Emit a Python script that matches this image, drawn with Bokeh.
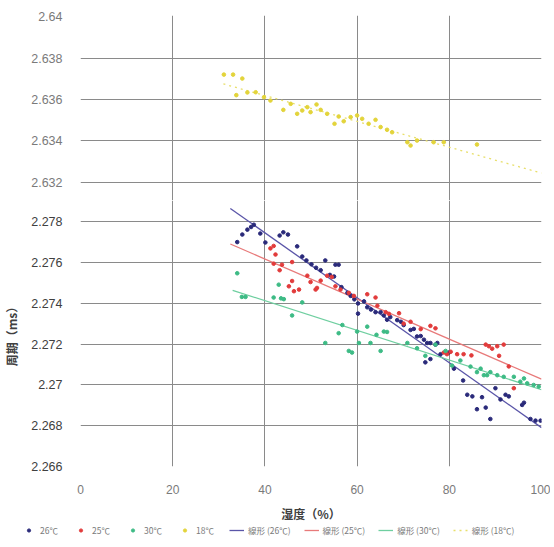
import numpy as np
from bokeh.plotting import figure
from bokeh.models import Range1d, FixedTicker, Legend, LegendItem
from bokeh.layouts import column
from bokeh.embed import file_html
from bokeh.resources import INLINE

# ---------------- data ----------------
series_names = ["26℃", "25℃", "30℃", "18℃"]
trend_names = ["線形 (26℃)", "線形 (25℃)", "線形 (30℃)", "線形 (18℃)"]

x_26 = [34.0, 35.1, 36.2, 37.0, 37.6, 39.0, 40.1, 43.2, 44.0, 45.0, 47.0, 48.1, 49.0, 50.1,
        51.1, 52.1, 53.1, 54.1, 55.3, 56.0, 55.0, 56.6, 57.9, 58.6, 59.4, 60.2, 60.2, 61.5,
        62.2, 63.0, 64.0, 65.1, 65.8, 66.5, 67.2, 68.7, 69.5, 70.1, 71.6, 72.3, 73.0, 73.8,
        74.5, 75.2, 75.9, 77.0, 77.4, 74.8, 75.9, 78.1, 79.9, 81.0, 83.0, 83.9, 85.0, 87.1,
        86.0, 87.9, 88.9, 90.0, 91.1, 92.2, 92.9, 95.8, 96.2, 97.6, 98.7, 99.8]
y_26 = [2.27701, 2.27738, 2.27762, 2.27775, 2.27786, 2.27743, 2.27699, 2.27733, 2.27749,
        2.27738, 2.27680, 2.27630, 2.27611, 2.27592, 2.27575, 2.27563, 2.27611, 2.27540,
        2.27590, 2.27590, 2.27532, 2.27480, 2.27452, 2.27437, 2.27420, 2.27400, 2.27350,
        2.27410, 2.27381, 2.27370, 2.27357, 2.27357, 2.27341, 2.27320, 2.27333, 2.27318,
        2.27310, 2.27294, 2.27270, 2.27275, 2.27238, 2.27240, 2.27222, 2.27206, 2.27206,
        2.27198, 2.27206, 2.27111, 2.27127, 2.27151, 2.27159, 2.27080, 2.27022, 2.26952,
        2.26944, 2.26940, 2.26881, 2.26889, 2.26833, 2.26984, 2.26929, 2.26952, 2.26944,
        2.26902, 2.26913, 2.26833, 2.26825, 2.26825]

x_25 = [41.2, 41.9, 41.9, 42.3, 43.2, 43.7, 45.2, 45.9, 45.9, 46.3, 47.4, 49.2, 49.9, 51.0,
        51.3, 52.1, 53.5, 54.5, 55.3, 56.4, 58.2, 59.3, 62.2, 64.0, 64.4, 66.2, 66.9, 69.1,
        70.1, 71.6, 73.8, 75.9, 77.0, 78.8, 79.5, 80.3, 81.7, 83.1, 84.8, 87.9, 88.6, 89.3,
        90.4, 91.8, 90.8, 92.9, 94.0]
y_25 = [2.27670, 2.27682, 2.27595, 2.27640, 2.27563, 2.27590, 2.27484, 2.27510, 2.27603,
        2.27460, 2.27468, 2.27536, 2.27505, 2.27468, 2.27476, 2.27512, 2.27536, 2.27530,
        2.27484, 2.27468, 2.27452, 2.27437, 2.27445, 2.27429, 2.27389, 2.27357, 2.27349,
        2.27352, 2.27301, 2.27310, 2.27274, 2.27290, 2.27278, 2.27159, 2.27151, 2.27163,
        2.27151, 2.27151, 2.27145, 2.27198, 2.27190, 2.27178, 2.27190, 2.27198, 2.27143,
        2.27091, 2.26984]

x_30 = [34.0, 35.0, 35.8, 41.9, 43.0, 43.5, 44.1, 45.9, 48.1, 53.1, 56.0, 56.8, 58.2, 58.9,
        60.0, 60.4, 62.2, 62.9, 64.2, 65.1, 65.8, 66.5, 70.9, 73.0, 74.8, 77.0, 79.2, 80.6,
        82.4, 84.6, 86.0, 86.8, 87.5, 88.2, 88.9, 90.4, 91.8, 94.0, 95.4, 96.2, 96.9, 98.3,
        99.4]
y_30 = [2.27548, 2.27432, 2.27432, 2.27429, 2.27492, 2.27425, 2.27421, 2.27341, 2.27405,
        2.27206, 2.27254, 2.27294, 2.27167, 2.27159, 2.27262, 2.27206, 2.27286, 2.27206,
        2.27246, 2.27167, 2.27262, 2.27260, 2.27206, 2.27180, 2.27143, 2.27198, 2.27167,
        2.27095, 2.27120, 2.27090, 2.27063, 2.27080, 2.27048, 2.27048, 2.27063, 2.27048,
        2.27040, 2.27040, 2.27016, 2.27032, 2.27008, 2.27000, 2.26992]

x_18 = [31.1, 33.1, 35.1, 33.8, 36.2, 38.0, 39.8, 41.2, 44.0, 45.6, 47.0, 48.1, 49.2, 49.9,
        51.2, 52.1, 53.5, 55.1, 56.0, 57.1, 58.6, 60.0, 61.1, 62.5, 64.0, 65.1, 66.5, 67.6,
        70.9, 71.6, 73.0, 76.6, 78.8, 86.0]
y_18 = [2.63720, 2.63720, 2.63701, 2.63621, 2.63634, 2.63635, 2.63611, 2.63595, 2.63550,
        2.63579, 2.63531, 2.63547, 2.63563, 2.63539, 2.63576, 2.63550, 2.63531, 2.63483,
        2.63518, 2.63495, 2.63515, 2.63523, 2.63507, 2.63483, 2.63502, 2.63467, 2.63454,
        2.63442, 2.63394, 2.63378, 2.63402, 2.63394, 2.63394, 2.63383]

trend_from = [32.5, 32.5, 33.0, 31.0]
trend_to = [100.0, 100.0, 100.0, 100.0]

lower_ticks = [2.266, 2.268, 2.27, 2.272, 2.274, 2.276, 2.278]
upper_ticks = [2.632, 2.634, 2.636, 2.638, 2.64]
x_ticks = [0, 20, 40, 60, 80, 100]

# ---------------- styles ----------------
pt_colors = ["#2a2a7a", "#e23b3b", "#3dbb85", "#e3d43a"]
ln_colors = ["#5a55a8", "#e87a7a", "#6fcfa0", "#e8df6a"]
ln_dash = ["solid", "solid", "solid", "dotted"]
GRID = "#8a8a8a"
FONT = "Liberation Sans"
JP = "Noto Sans CJK JP"
W = 550
LB, RB = 80, 9

xs_all = [x_26, x_25, x_30, x_18]
ys_all = [y_26, y_25, y_30, y_18]


def trend(xs, ys, x0, x1):
    k, b = np.polyfit(np.array(xs), np.array(ys), 1)
    tx = np.array([x0, x1])
    return tx, k * tx + b


def style(p):
    p.outline_line_color = None
    p.xgrid.ticker = FixedTicker(ticks=x_ticks)
    p.xgrid.grid_line_color = GRID
    p.ygrid.grid_line_color = GRID
    p.yaxis.axis_line_color = None
    p.yaxis.major_tick_line_color = None
    p.yaxis.minor_tick_line_color = None
    p.yaxis.major_label_text_font = FONT
    p.yaxis.major_label_text_font_size = "12.5px"
    p.yaxis.major_label_standoff = 12


# ---------------- upper figure ----------------
up = figure(width=W, height=200, output_backend="svg", toolbar_location=None,
            x_range=Range1d(0, 100), y_range=Range1d(2.63113, 2.64005),
            min_border_left=LB, min_border_right=RB, min_border_top=15, min_border_bottom=0,
            x_axis_location=None)
style(up)
up.yaxis.ticker = FixedTicker(ticks=upper_ticks)
up.ygrid.ticker = FixedTicker(ticks=upper_ticks[:-1])
up.yaxis.major_label_text_color = "#7a7a7a"
up.yaxis.major_label_overrides = {2.64: "2.64"}

tx, ty = trend(x_18, y_18, trend_from[3], trend_to[3])
up.line(tx, ty, line_color=ln_colors[3], line_width=1.3, line_dash=ln_dash[3])
up.scatter(x_18, y_18, size=3.6, fill_color=pt_colors[3], line_color=pt_colors[3])

# ---------------- lower figure ----------------
lo = figure(width=W, height=324, output_backend="svg", toolbar_location=None,
            x_range=Range1d(0, 100), y_range=Range1d(2.266, 2.27905),
            min_border_left=LB, min_border_right=RB, min_border_top=0, min_border_bottom=50)
style(lo)
lo.yaxis.ticker = FixedTicker(ticks=lower_ticks)
lo.ygrid.ticker = FixedTicker(ticks=lower_ticks)
lo.yaxis.major_label_text_color = "#404040"
lo.yaxis.major_label_overrides = {2.27: "2.27"}
lo.yaxis.axis_label = "周期（ms）"
lo.yaxis.axis_label_text_font = JP
lo.yaxis.axis_label_text_font_size = "12px"
lo.yaxis.axis_label_text_font_style = "bold"
lo.yaxis.axis_label_text_color = "#404040"
lo.yaxis.axis_label_standoff = 8

lo.xaxis.ticker = FixedTicker(ticks=x_ticks)
lo.xaxis.axis_line_color = None
lo.xaxis.major_tick_line_color = None
lo.xaxis.minor_tick_line_color = None
lo.xaxis.major_label_text_font = FONT
lo.xaxis.major_label_text_font_size = "12px"
lo.xaxis.major_label_text_color = "#7a7a7a"
lo.xaxis.major_label_standoff = 12
lo.xaxis.axis_label = "湿度（%）"
lo.xaxis.axis_label_text_font = JP
lo.xaxis.axis_label_text_font_size = "12px"
lo.xaxis.axis_label_text_font_style = "bold"
lo.xaxis.axis_label_text_color = "#404040"
lo.xaxis.axis_label_standoff = 8

for i in range(3):
    tx, ty = trend(xs_all[i], ys_all[i], trend_from[i], trend_to[i])
    lo.line(tx, ty, line_color=ln_colors[i], line_width=1.3, line_dash=ln_dash[i])
for i in range(3):
    lo.scatter(xs_all[i], ys_all[i], size=3.6, fill_color=pt_colors[i], line_color=pt_colors[i])

# ---------------- legend strip (own root, so its frame spans the full width) ----------------
lg = figure(width=W, height=14, output_backend="svg", toolbar_location=None,
            x_range=Range1d(0, 1), y_range=Range1d(0, 1), min_border=0,
            x_axis_location=None, y_axis_location=None)
lg.outline_line_color = None
lg.xgrid.visible = False
lg.ygrid.visible = False
pt_r, ln_r = [], []
for i in range(4):
    # same series, outside this strip's range: only the legend glyphs show
    pt_r.append(lg.scatter(xs_all[i], ys_all[i], size=3.6, fill_color=pt_colors[i],
                           line_color=pt_colors[i]))
for i in range(4):
    tx, ty = trend(xs_all[i], ys_all[i], trend_from[i], trend_to[i])
    ln_r.append(lg.line(tx, ty, line_color=ln_colors[i], line_width=1.3, line_dash=ln_dash[i]))
items = [LegendItem(label=series_names[i], renderers=[pt_r[i]]) for i in range(4)]
items += [LegendItem(label=trend_names[i], renderers=[ln_r[i]]) for i in range(4)]
leg = Legend(items=items, orientation="horizontal", location=(21, 2),
             label_text_font=JP, label_text_font_size="8.5px", label_text_color="#7a7a7a",
             glyph_width=15, glyph_height=8, label_height=8, label_standoff=4,
             spacing=13, padding=2, margin=0, border_line_color=None,
             background_fill_alpha=0)
lg.add_layout(leg)

layout = column(up, lo, spacing=0)
open("out.html", "w").write(file_html([layout, lg], INLINE))
